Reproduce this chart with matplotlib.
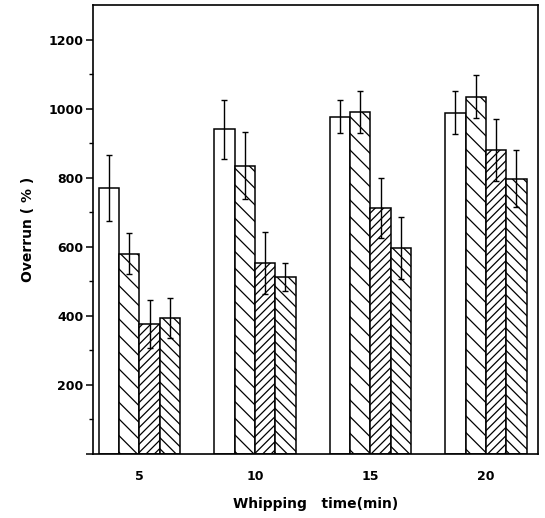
import numpy as np
import matplotlib
matplotlib.use("Agg")
import matplotlib.pyplot as plt

# data
times = [5, 10, 15, 20]
overrun_a = [770, 940, 977, 988]
overrun_b = [580, 835, 991, 1035]
overrun_c = [377, 553, 712, 880]
overrun_d = [394, 512, 597, 797]
err_a = [95, 85, 48, 62]
err_b = [60, 98, 60, 62]
err_c = [70, 90, 88, 90]
err_d = [58, 40, 90, 83]

series = [overrun_a, overrun_b, overrun_c, overrun_d]
errors = [err_a, err_b, err_c, err_d]
hatches = ["", "\\\\", "////", "\\\\\\"]

plt.rcParams['hatch.linewidth'] = 0.9
plt.rcParams['font.family'] = ['DejaVu Sans']

fig = plt.figure(figsize=(5.45, 5.18), dpi=100)
ax = fig.add_axes([0.171, 0.124, 0.816, 0.866])

w = 0.88
x = np.array(times, dtype=float)
for i in range(4):
    xpos = x + (i - 1.5) * w
    ax.bar(xpos, series[i], width=w, color="white", edgecolor="black",
           linewidth=1.1, hatch=hatches[i], zorder=2)
    ax.errorbar(xpos, series[i], yerr=errors[i], fmt="none", ecolor="black",
                elinewidth=1.0, capsize=2, capthick=1.0, zorder=3)

ax.set_xlim(3.0, 22.25)
ax.set_ylim(0, 1300)

ax.set_xticks(times)
ax.set_xticklabels([str(t) for t in times], fontsize=9, fontweight="bold")
ax.tick_params(axis="x", direction="in", length=6, width=1.1, pad=12)

ax.set_yticks([0, 200, 400, 600, 800, 1000, 1200])
ax.set_yticklabels(["", "200", "400", "600", "800", "1000", "1200"],
                   fontsize=9, fontweight="bold")
ax.set_yticks(np.arange(100, 1300, 200), minor=True)
ax.tick_params(axis="y", which="major", direction="out", length=5, width=1.1, pad=2)
ax.tick_params(axis="y", which="minor", direction="out", length=3, width=1.0)

for s in ax.spines.values():
    s.set_linewidth(1.2)

ax.set_xlabel("Whipping   time(min)", fontsize=10, fontweight="bold", labelpad=10)
ax.set_ylabel("Overrun ( % )", fontsize=10, fontweight="bold", labelpad=28)
ax.yaxis.set_label_coords(-0.13, 0.5)

fig.savefig("out.png", dpi=100)
